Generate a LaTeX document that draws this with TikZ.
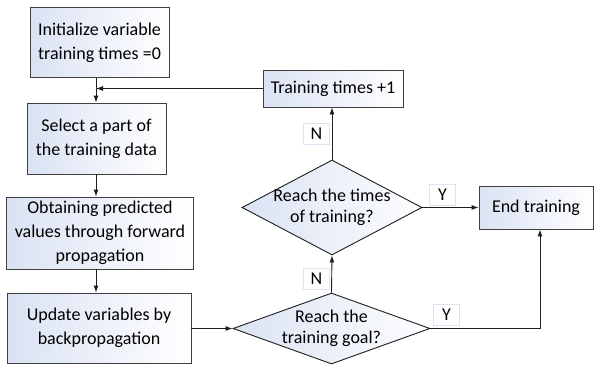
\documentclass[tikz,border=0pt]{standalone}
\usepackage{fontspec}
\setmainfont{Carlito}
\usetikzlibrary{arrows.meta,shapes.geometric}

\definecolor{boxblue}{RGB}{218,226,243}
\definecolor{edgec}{RGB}{64,64,64}
\definecolor{linec}{RGB}{30,30,30}
\definecolor{tagedge}{RGB}{220,228,242}

\tikzset{
  flowbox/.style={draw=edgec, line width=0.9pt, left color=boxblue, right color=white,
    inner sep=0pt, align=center},
  decision/.style={diamond, draw=linec, line width=0.9pt, left color=boxblue, right color=white!96!boxblue,
    inner sep=0pt, aspect=1},
  dtext/.style={align=center, inner sep=0pt, font=\fontsize{18}{21}\selectfont},
  tag/.style={draw=tagedge, line width=0.6pt, fill=white, inner sep=0pt,
    minimum width=26pt, minimum height=21pt},
  arr/.style={draw=linec, line width=0.9pt, -{Latex[length=7pt,width=5pt]}},
}

\begin{document}
\begin{tikzpicture}[x=1pt, y=-1pt, font=\fontsize{18}{24}\selectfont]
  \useasboundingbox (0,0) rectangle (595,367);
  \fill[white] (0,0) rectangle (595,367);

  % process boxes of the main column
  \node[flowbox, minimum width=139pt, minimum height=70pt] (init) at (99.5,42.5)
    {Initialize variable\\training times =0};
  \node[flowbox, minimum width=139pt, minimum height=71pt] (select) at (96.5,138.5)
    {Select a part of\\the training data};
  \node[flowbox, minimum width=187pt, minimum height=72pt] (forward) at (100,233)
    {Obtaining predicted\\values through forward\\propagation};
  \node[flowbox, minimum width=184pt, minimum height=70pt] (update) at (99,328)
    {Update variables by\\backpropagation};

  % counter and end boxes
  \node[flowbox, minimum width=140pt, minimum height=37pt] (incr) at (333,88.5)
    {Training times +1};
  \node[flowbox, minimum width=114pt, minimum height=43pt] (stop) at (536,207.5)
    {End training};

  % decisions
  \node[decision, minimum width=180pt, minimum height=95pt] (times) at (332,207.5) {};
  \node[dtext] at (times) {Reach the times\\of training?};
  \node[decision, minimum width=197pt, minimum height=71pt] (goal) at (331.5,328.5) {};
  \node[dtext] at (goal) {Reach the\\training goal?};

  % helper points for the vertical runs
  \coordinate (spine) at (96,0);
  \coordinate (rise) at (540,0);

  % main column
  \draw[arr] (init.south -| spine) -- (select.north -| spine);
  \draw[arr] (select.south -| spine) -- (forward.north -| spine);
  \draw[arr] (forward.south -| spine) -- (update.north -| spine);
  \draw[arr] (goal.west -| update.east) -- (goal.west);

  % loop back
  \draw[arr] (goal.north) -- (times.south);
  \draw[arr] (times.north) -- (incr.south -| times.north);
  \draw[arr] (incr.west) -- (incr.west -| spine);

  % exits
  \draw[arr] (times.east) -- (times.east -| stop.west);
  \draw[arr] (goal.east) -| (stop.south -| rise);

  % branch tags
  \node[tag] (n1) at (316.5,134) {N};
  \node[tag] (n2) at (316.5,279) {N};
  \node[tag] (y1) at (442.5,195) {Y};
  \node[tag] (y2) at (446.5,315) {Y};
\end{tikzpicture}
\end{document}
